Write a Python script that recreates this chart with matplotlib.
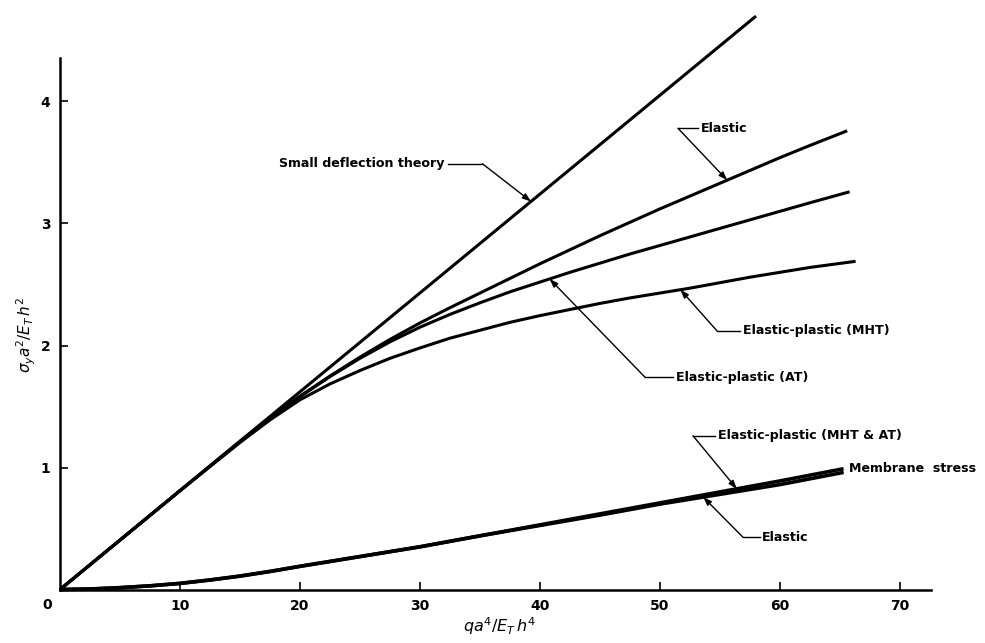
import numpy as np
import matplotlib
matplotlib.use("Agg")
import matplotlib.pyplot as plt

# ---------------- data ----------------
sd_x = [0, 58]
sd_y = [0, 4.70]

el_x = [0, 10, 15, 17.5, 20, 22.5, 25, 27.5, 30, 32.5, 35, 37.5, 40, 42.5,
        45, 47.5, 50, 52.5, 55, 57.5, 60, 62.5, 65.6]
el_y = [0, 0.81, 1.215, 1.41, 1.585, 1.75, 1.905, 2.05, 2.185, 2.31, 2.43,
        2.55, 2.67, 2.785, 2.90, 3.01, 3.12, 3.225, 3.33, 3.435, 3.54, 3.64, 3.76]

at_x = [0, 10, 15, 17.5, 20, 22.5, 25, 27.5, 30, 32.5, 35, 37.5, 40, 42.5,
        45, 47.5, 50, 52.5, 55, 57.5, 60, 62.5, 65.8]
at_y = [0, 0.81, 1.21, 1.405, 1.58, 1.745, 1.895, 2.03, 2.15, 2.255, 2.35,
        2.44, 2.52, 2.60, 2.675, 2.75, 2.82, 2.89, 2.96, 3.03, 3.10, 3.17, 3.26]

mht_x = [0, 10, 15, 17.5, 20, 22.5, 25, 27.5, 30, 32.5, 35, 37.5, 40, 42.5,
         45, 47.5, 50, 52.5, 55, 57.5, 60, 62.5, 66.3]
mht_y = [0, 0.81, 1.205, 1.39, 1.555, 1.685, 1.795, 1.895, 1.98, 2.06, 2.125,
         2.19, 2.245, 2.295, 2.345, 2.39, 2.43, 2.47, 2.515, 2.56, 2.60, 2.64, 2.69]

mem_pl_x = [0, 2.5, 5, 7.5, 10, 12.5, 15, 17.5, 20, 22.5, 25, 30, 35, 40, 45,
            50, 55, 60, 65.3]
mem_pl_y = [0, 0.004, 0.015, 0.03, 0.05, 0.078, 0.11, 0.148, 0.19, 0.23, 0.27,
            0.35, 0.44, 0.53, 0.62, 0.71, 0.80, 0.89, 0.99]

mem_el_x = [0, 2.5, 5, 7.5, 10, 12.5, 15, 17.5, 20, 22.5, 25, 30, 35, 40, 45,
            50, 55, 60, 65.3]
mem_el_y = [0, 0.004, 0.015, 0.03, 0.05, 0.078, 0.11, 0.148, 0.19, 0.23, 0.27,
            0.35, 0.44, 0.525, 0.61, 0.70, 0.78, 0.86, 0.96]

x_ticks = [10, 20, 30, 40, 50, 60, 70]
y_ticks = [1, 2, 3, 4]

# ---------------- figure ----------------
plt.rcParams['font.family'] = ['DejaVu Sans']
plt.rcParams['mathtext.fontset'] = 'dejavusans'

fig = plt.figure(figsize=(9.85, 6.43), dpi=100)
ax = fig.add_axes([60 / 985, 1 - 589.5 / 643, 925 / 985, 589.5 / 643])
ax.set_xlim(0, 925 / 12)
ax.set_ylim(0, 589.5 / 122)

lw = 2.2
col = 'black'
kw = dict(color=col, clip_on=False, solid_capstyle='butt', solid_joinstyle='round')
ax.plot(sd_x, sd_y, lw=lw, **kw)
ax.plot(el_x, el_y, lw=lw, **kw)
ax.plot(at_x, at_y, lw=lw, **kw)
ax.plot(mht_x, mht_y, lw=lw, **kw)
ax.plot(mem_pl_x, mem_pl_y, lw=2.6, **kw)
ax.plot(mem_el_x, mem_el_y, lw=2.6, **kw)

# spines / ticks
for s in ['top', 'right']:
    ax.spines[s].set_visible(False)
ax.spines['left'].set_linewidth(1.8)
ax.spines['bottom'].set_linewidth(1.8)
ax.spines['left'].set_bounds(0, 4.36)
ax.spines['bottom'].set_bounds(0, 72.6)

ax.set_xticks(x_ticks)
ax.set_xticklabels([str(t) for t in x_ticks])
ax.set_yticks(y_ticks)
ax.set_yticklabels([str(t) for t in y_ticks])
ax.tick_params(axis='both', direction='in', length=6, width=1.2,
               labelsize=10, pad=7)
for lab in ax.get_xticklabels() + ax.get_yticklabels():
    lab.set_fontweight('bold')
ax.text(-1.1, -0.13, '0', ha='center', va='center', fontsize=10,
        fontweight='bold', clip_on=False)

fig.text(500 / 985, 1 - 626 / 643, r'$qa^4/E_T\,h^4$', ha='center', va='center',
         fontsize=11.5)
fig.text(26 / 985, 1 - 335 / 643, r'$\sigma_y a^2/E_T\,h^2$', ha='center',
         va='center', fontsize=11, rotation=90)

# ---------------- annotations ----------------
fs = 9.1
fw = 'bold'
aprops = dict(arrowstyle='-|>,head_length=0.5,head_width=0.18', color='black',
              lw=1.0, shrinkA=0, shrinkB=0)


def leader(text, tx, ty, elbow_x, tip_x, cx, cy, ha='left'):
    tip_y = float(np.interp(tip_x, cx, cy))
    if ha == 'left':
        ax.text(tx, ty, text, ha='left', va='center', fontsize=fs, fontweight=fw)
        ax.plot([elbow_x, tx - 0.2], [ty, ty], color='black', lw=1.0)
    else:
        ax.text(tx, ty, text, ha='right', va='center', fontsize=fs, fontweight=fw)
        ax.plot([tx + 0.3, elbow_x], [ty, ty], color='black', lw=1.0)
    ax.annotate('', xy=(tip_x, tip_y), xytext=(elbow_x, ty), arrowprops=aprops)


leader('Small deflection theory', 32.0, 3.49, 35.2, 39.25, sd_x, sd_y, ha='right')
leader('Elastic', 53.4, 3.78, 51.5, 55.6, el_x, el_y)
leader('Elastic-plastic (MHT)', 56.9, 2.12, 54.75, 51.7, mht_x, mht_y)
leader('Elastic-plastic (AT)', 51.3, 1.74, 48.75, 40.8, at_x, at_y)
leader('Elastic-plastic (MHT & AT)', 54.8, 1.26, 52.75, 56.4, mem_pl_x, mem_pl_y)
leader('Elastic', 58.5, 0.43, 56.9, 53.6, mem_el_x, mem_el_y)
ax.text(65.75, 0.99, 'Membrane  stress', ha='left', va='center', fontsize=fs,
        fontweight=fw)

fig.savefig('out.png', dpi=100)
